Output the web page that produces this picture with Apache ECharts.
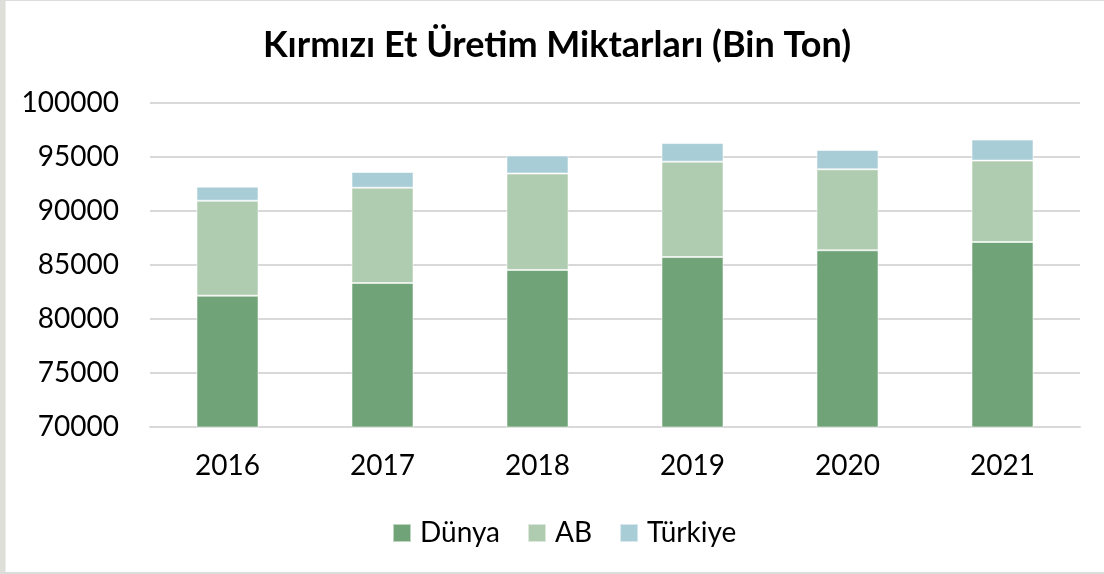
<!DOCTYPE html>
<html>
<head>
<meta charset="utf-8">
<script src="https://cdn.jsdelivr.net/npm/echarts@6/dist/echarts.min.js"></script>
<style>
  html, body { margin: 0; padding: 0; background: #ffffff; }
  #wrap { position: relative; width: 1104px; height: 574px; overflow: hidden; }
  #chart { position: absolute; left: 0; top: 0; width: 1104px; height: 574px; }
  .edge-left { position: absolute; left: 0; top: 0; width: 5px; height: 574px; background: #dfdfda; }
  .edge-left2 { position: absolute; left: 5px; top: 0; width: 1px; height: 574px; background: #ececea; }
  .edge-top { position: absolute; left: 0; top: 0; width: 1104px; height: 1px; background: #dcdcdc; }
  .edge-bottom { position: absolute; left: 0; top: 572px; width: 1104px; height: 2px; background: #dcdcdc; }
</style>
</head>
<body>
<div id="wrap">
  <div id="chart"></div>
  <div class="edge-left"></div>
  <div class="edge-left2"></div>
  <div class="edge-top"></div>
  <div class="edge-bottom"></div>
</div>
<script>
// Red meat production, thousand tonnes
const years = ['2016', '2017', '2018', '2019', '2020', '2021'];
const dunya = [82160, 83330, 84540, 85740, 86360, 87130];
const ab = [8790, 8830, 8930, 8830, 7500, 7540];
const turkiye = [1300, 1450, 1670, 1720, 1790, 1940];
const yTicks = [70000, 75000, 80000, 85000, 90000, 95000, 100000];

const FONT = 'Lato, "Liberation Sans", sans-serif';
const chart = echarts.init(document.getElementById('chart'), null, { renderer: 'canvas' });

function barSeries(name, data, color) {
  return {
    name: name,
    type: 'bar',
    stack: 'total',
    data: data,
    barCategoryGap: '60%',
    itemStyle: { color: color, borderColor: 'rgba(255,255,255,0.55)', borderWidth: 1 },
    emphasis: { disabled: true }
  };
}

chart.setOption({
  animation: false,
  backgroundColor: '#ffffff',
  title: {
    text: 'Kırmızı Et Üretim Miktarları (Bin Ton)',
    left: 552,
    textAlign: 'center',
    top: 22,
    textStyle: { fontFamily: FONT, fontSize: 36, fontWeight: 'bold', color: '#000000' }
  },
  legend: {
    data: ['Dünya', 'AB', 'Türkiye'],
    left: 387,
    top: 514,
    itemWidth: 18,
    itemHeight: 18,
    itemGap: 27,
    icon: 'rect',
    textStyle: { fontFamily: FONT, fontSize: 28, color: '#000000', padding: [0, 0, 0, 4] }
  },
  grid: { left: 150, right: 24, top: 103, bottom: 147, containLabel: false },
  xAxis: {
    type: 'category',
    data: years,
    axisLine: { lineStyle: { color: '#d9d9d9', width: 2 } },
    axisTick: { show: false },
    axisLabel: { fontFamily: FONT, fontSize: 28, color: '#000000', margin: 25 }
  },
  yAxis: {
    type: 'value',
    min: yTicks[0],
    max: yTicks[yTicks.length - 1],
    interval: yTicks[1] - yTicks[0],
    axisLine: { show: false },
    axisTick: { show: false },
    splitLine: { lineStyle: { color: '#d9d9d9', width: 2 } },
    axisLabel: {
      fontFamily: FONT, fontSize: 28, color: '#000000', margin: 31,
      formatter: function (v) { return String(v); }
    }
  },
  series: [
    barSeries('Dünya', dunya, '#70a377'),
    barSeries('AB', ab, '#b0ccb0'),
    barSeries('Türkiye', turkiye, '#a9cdd6')
  ]
});
</script>
</body>
</html>
